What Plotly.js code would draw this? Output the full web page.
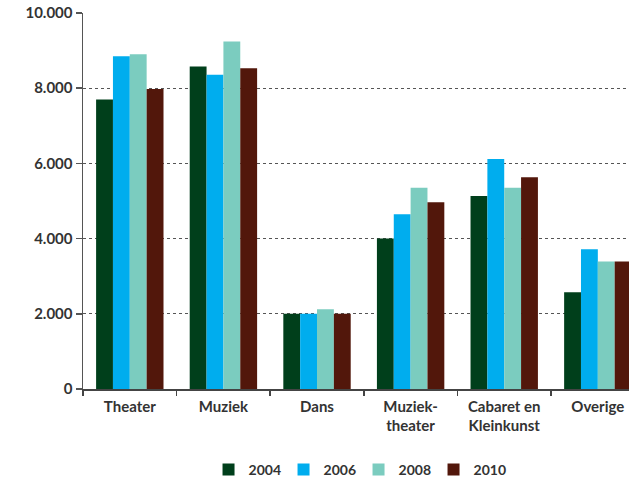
<!DOCTYPE html>
<html>
<head>
<meta charset="utf-8">
<script src="https://cdn.plot.ly/plotly-3.0.1.min.js"></script>
<style>html,body{margin:0;padding:0;background:#fff;}</style>
</head>
<body>
<div id="chart" style="width:629px;height:481px;"></div>
<script>
const categories = ["Theater", "Muziek", "Dans", "Muziek-<br>theater", "Cabaret en<br>Kleinkunst", "Overige"];
const years = ["2004", "2006", "2008", "2010"];
const v2004 = [7700, 8580, 2000, 4000, 5130, 2570];
const v2006 = [8850, 8360, 2000, 4650, 6120, 3720];
const v2008 = [8900, 9240, 2120, 5350, 5350, 3390];
const v2010 = [7980, 8530, 2000, 4970, 5630, 3390];
const colors = ["#003f1b", "#00adee", "#7bccbf", "#52170b"];
const series = [v2004, v2006, v2008, v2010];

const traces = series.map((vals, i) => ({
  type: "bar",
  name: years[i],
  x: categories,
  y: vals,
  marker: {color: colors[i], line: {width: 0}},
  hoverinfo: "none"
}));

const fnt = {family: "Lato, 'Open Sans', sans-serif", size: 15, color: "#333", weight: 700};

const layout = {
  width: 629, height: 481,
  margin: {l: 83, r: 0, t: 13, b: 92, autoexpand: false},
  paper_bgcolor: "#fff", plot_bgcolor: "#fff",
  barmode: "group", bargap: 0.28, bargroupgap: 0,
  separators: ",.",
  font: fnt,
  showlegend: true,
  legend: {
    orientation: "h", x: 0.57, xref: "container", xanchor: "center",
    y: 0.023, yref: "container", yanchor: "middle",
    font: {family: "Lato, 'Open Sans', sans-serif", size: 14, color: "#333", weight: 700},
    entrywidth: 30, entrywidthmode: "pixels", traceorder: "normal"
  },
  xaxis: {
    range: [-0.5, 5.333],
    showline: true, linecolor: "#444", linewidth: 1.5,
    ticks: "outside", tickson: "boundaries", ticklen: 5, tickcolor: "#444", tickwidth: 1.5,
    ticklabelstandoff: 3,
    showgrid: false, zeroline: false, fixedrange: true,
    tickfont: fnt
  },
  yaxis: {
    range: [0, 10000],
    tickvals: [0, 2000, 4000, 6000, 8000, 10000],
    tickformat: ",",
    showline: true, linecolor: "#555", linewidth: 1.5,
    ticks: "outside", ticklen: 6, tickcolor: "#555", tickwidth: 1.5,
    showgrid: true, gridcolor: "#555", griddash: "dot", gridwidth: 1,
    zeroline: false, fixedrange: true,
    tickfont: fnt
  }
};

Plotly.newPlot("chart", traces, layout, {displayModeBar: false, staticPlot: true});
</script>
</body>
</html>
